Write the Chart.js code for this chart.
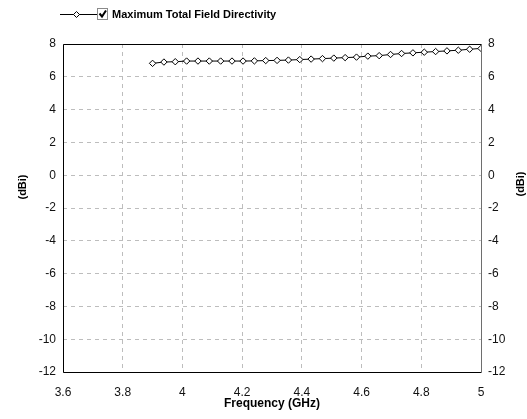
<!DOCTYPE html>
<html>
<head>
<meta charset="utf-8">
<script src="https://cdn.jsdelivr.net/npm/chart.js@4.4.0/dist/chart.umd.min.js"></script>
<style>
  html, body { margin: 0; padding: 0; background: #fff; }
  #wrap { width: 527px; height: 419px; position: relative; }
</style>
</head>
<body>
<div id="wrap"><canvas id="myChart" width="527" height="419"></canvas></div>
<script>
// frequency samples (GHz) and directivity (dBi)
const FREQS = [3.9, 3.938, 3.976, 4.014, 4.052, 4.09, 4.128, 4.166, 4.203, 4.241,
  4.279, 4.317, 4.355, 4.393, 4.431, 4.469, 4.507, 4.545, 4.583, 4.621,
  4.659, 4.697, 4.734, 4.772, 4.81, 4.848, 4.886, 4.924, 4.962, 5.0];
const DIRECTIVITY = [6.82, 6.9, 6.92, 6.96, 6.96, 6.96, 6.96, 6.96, 6.96, 6.97,
  6.99, 7.0, 7.02, 7.05, 7.08, 7.11, 7.14, 7.17, 7.2, 7.26,
  7.29, 7.36, 7.42, 7.46, 7.5, 7.54, 7.58, 7.62, 7.68, 7.73];
const SERIES_NAME = 'Maximum Total Field Directivity';
const X_TITLE = 'Frequency (GHz)';
const Y_TITLE = '(dBi)';
const X_MIN = 3.6, X_MAX = 5, X_STEP = 0.2;
const Y_MIN = -12, Y_MAX = 8, Y_STEP = 2;

const FONT = 'Liberation Sans, Arial, sans-serif';

const points = FREQS.map((f, i) => ({ x: f, y: DIRECTIVITY[i] }));

function rotText(c, txt, x, y) {
  c.save();
  c.translate(x, y);
  c.rotate(-Math.PI / 2);
  c.textAlign = 'center';
  c.textBaseline = 'middle';
  c.fillText(txt, 0, 0);
  c.restore();
}

// frame, checkbox legend and axis titles drawn by hand
const framePlugin = {
  id: 'frame',
  afterDraw(chart) {
    const c = chart.ctx;
    const a = chart.chartArea;
    c.save();
    c.lineWidth = 1;
    c.strokeStyle = '#000';
    c.beginPath();
    c.moveTo(a.left + 0.5, a.bottom + 0.5);
    c.lineTo(a.left + 0.5, a.top + 0.5);
    c.lineTo(a.right + 0.5, a.top + 0.5);
    c.moveTo(a.left + 0.5, a.bottom + 0.5);
    c.lineTo(a.right + 0.5, a.bottom + 0.5);
    c.stroke();
    c.strokeStyle = '#6e6e6e';
    c.beginPath();
    c.moveTo(a.right + 0.5, a.top + 0.5);
    c.lineTo(a.right + 0.5, a.bottom + 0.5);
    c.stroke();

    // legend
    const ly = 14.5;
    c.strokeStyle = '#000';
    c.beginPath();
    c.moveTo(60, ly);
    c.lineTo(97, ly);
    c.stroke();
    c.fillStyle = '#fff';
    c.beginPath();
    c.moveTo(76.5, ly - 3);
    c.lineTo(79.5, ly);
    c.lineTo(76.5, ly + 3);
    c.lineTo(73.5, ly);
    c.closePath();
    c.fill();
    c.stroke();
    c.fillStyle = '#fff';
    c.fillRect(97.5, 8.5, 10, 11);
    c.strokeStyle = '#8a8a8a';
    c.strokeRect(97.5, 8.5, 10, 11);
    c.strokeStyle = '#000';
    c.lineWidth = 2;
    c.beginPath();
    c.moveTo(99.5, 13.5);
    c.lineTo(102, 16.5);
    c.lineTo(106, 10.5);
    c.stroke();
    c.fillStyle = '#000';
    c.font = 'bold 11px ' + FONT;
    c.textBaseline = 'middle';
    c.textAlign = 'left';
    c.fillText(SERIES_NAME, 112, 15);

    // axis titles
    c.font = 'bold 11px ' + FONT;
    rotText(c, Y_TITLE, 23, 187);
    rotText(c, Y_TITLE, 521, 184);
    c.font = 'bold 12px ' + FONT;
    c.textAlign = 'center';
    c.textBaseline = 'middle';
    c.fillText(X_TITLE, (a.left + a.right) / 2, 404);
    c.restore();
  }
};

const tickFont = { family: FONT, size: 12 };
const fmt = v => String(Number(v.toFixed(1)));

let ctx = document.querySelector('#myChart').getContext('2d');
let myChart = new Chart(ctx, {
  type: 'line',
  data: {
    datasets: [{
      label: SERIES_NAME,
      data: points,
      borderColor: '#000',
      borderWidth: 1,
      pointStyle: 'rectRot',
      pointRadius: 3.2,
      pointBackgroundColor: '#fff',
      pointBorderColor: '#000',
      pointBorderWidth: 1,
      tension: 0,
    }]
  },
  options: {
    responsive: false,
    animation: false,
    layout: { padding: { top: 44, left: 0, right: 0, bottom: 0 } },
    plugins: {
      legend: { display: false },
      tooltip: { enabled: false },
    },
    scales: {
      x: {
        type: 'linear',
        min: X_MIN, max: X_MAX,
        afterFit: s => { s.height = 47; },
        ticks: { stepSize: X_STEP, color: '#111', font: tickFont, padding: 13, callback: fmt, maxRotation: 0 },
        grid: { color: '#bdbdbd', drawTicks: false },
        border: { display: false, dash: [4, 4] },
      },
      y: {
        position: 'left',
        min: Y_MIN, max: Y_MAX,
        afterFit: s => { s.width = 63; },
        ticks: { stepSize: Y_STEP, color: '#111', font: tickFont, padding: 7 },
        grid: { color: '#bdbdbd', drawTicks: false },
        border: { display: false, dash: [4, 4] },
      },
      y2: {
        position: 'right',
        min: Y_MIN, max: Y_MAX,
        afterFit: s => { s.width = 46; },
        ticks: { stepSize: Y_STEP, color: '#111', font: tickFont, padding: 7 },
        grid: { display: false, drawTicks: false },
        border: { display: false },
      }
    }
  },
  plugins: [framePlugin]
});
</script>
</body>
</html>
